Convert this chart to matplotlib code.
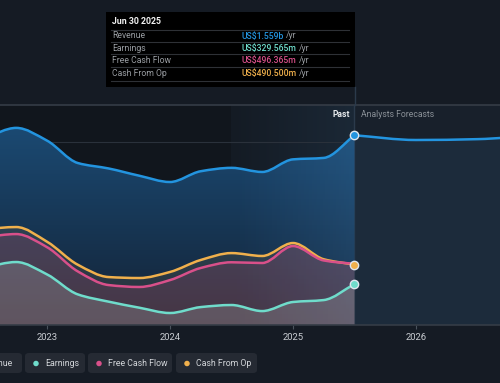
import numpy as np
import matplotlib
matplotlib.use("Agg")
import matplotlib.pyplot as plt
from matplotlib.path import Path
from matplotlib.patches import PathPatch, FancyBboxPatch, Rectangle

plt.rcParams['font.family'] = ['Roboto', 'DejaVu Sans']

# ---------------- data ----------------
past_t = [2022.5, 2022.75, 2023.0, 2023.25, 2023.5, 2023.75, 2024.0,
          2024.25, 2024.5, 2024.75, 2025.0, 2025.25, 2025.5]
revenue = [1540, 1620, 1515, 1330, 1285, 1225, 1173, 1262, 1290, 1256, 1360, 1372, 1559]
earnings = [470, 512, 410, 245, 185, 135, 91, 140, 157, 107, 182, 198, 329.565]
fcf = [720, 743, 635, 435, 322, 306, 363, 463, 510, 504, 644, 525, 496.365]
cfo = [785, 801, 680, 490, 388, 380, 430, 529, 586, 562, 669, 535, 490.5]
fc_t = [2025.5, 2026.0, 2026.5, 2027.0]
revenue_fc = [1559, 1520, 1527, 1562]
year_ticks = [2023, 2024, 2025, 2026]
year_labels = ["2023", "2024", "2025", "2026"]

BLUE = "#2394df"
TEAL = "#6fdccb"
PINK = "#d9508a"
ORANGE = "#f0b04c"
BG = "#151b24"

W, H = 500, 383
fig = plt.figure(figsize=(W / 100, H / 100), dpi=100)
fig.patch.set_facecolor(BG)

def fx(x):
    return x / W

def fy(y):
    return 1 - y / H

ax = fig.add_axes([0, fy(325), 1, fy(105) - fy(325)])
ax.set_facecolor("#11161d")
ax.set_xlim(2022.618, 2026.683)
ax.set_ylim(-8, 1809)
for s in ax.spines.values():
    s.set_visible(False)


def smooth_path(xs, ys, base=None):
    xs = np.asarray(xs, float)
    ys = np.asarray(ys, float)
    n = len(xs)
    d = np.diff(ys) / np.diff(xs)
    m = np.zeros(n)
    m[0], m[-1] = d[0], d[-1]
    for i in range(1, n - 1):
        if d[i - 1] * d[i] <= 0:
            m[i] = 0
        else:
            m[i] = 2 / (1 / d[i - 1] + 1 / d[i])
    verts = [(xs[0], ys[0])]
    codes = [Path.MOVETO]
    for i in range(n - 1):
        h = xs[i + 1] - xs[i]
        verts += [(xs[i] + h / 3, ys[i] + m[i] * h / 3),
                  (xs[i + 1] - h / 3, ys[i + 1] - m[i + 1] * h / 3),
                  (xs[i + 1], ys[i + 1])]
        codes += [Path.CURVE4] * 3
    if base is not None:
        verts += [(xs[-1], base), (xs[0], base), (xs[0], ys[0])]
        codes += [Path.LINETO, Path.LINETO, Path.CLOSEPOLY]
    return Path(verts, codes)

# forecast region background
ax.axvspan(2025.5, 2026.683, color="#18202b", zorder=0, lw=0)
# highlight band with gradient
grad = np.linspace(0, 1, 100).reshape(1, -1)
ax.imshow(grad, extent=[2024.5, 2025.5, -8, 1809], aspect="auto",
          cmap=matplotlib.colors.LinearSegmentedColormap.from_list(
              "b", ["#141b24", "#1b2836"]), zorder=0.5)

# grid
for v in [500, 1000, 1500]:
    ax.axhline(v, color="#2a313b", lw=0.8, zorder=1)
ax.axhline(1809, color="#353c46", lw=1.2, zorder=1, clip_on=False)
ax.axhline(-8, color="#353c46", lw=1.2, zorder=6, clip_on=False)

# revenue area gradient (past)
rev_area = smooth_path(past_t, revenue, base=-8)
vgrad = np.linspace(0, 1, 200).reshape(-1, 1)
cmap_rev = matplotlib.colors.LinearSegmentedColormap.from_list(
    "r", ["#132235", "#1b4a73"])
im = ax.imshow(vgrad, extent=[2022.5, 2025.5, -8, 1650], origin="lower",
               aspect="auto", cmap=cmap_rev, zorder=2)
clip = PathPatch(rev_area, transform=ax.transData, facecolor="none", edgecolor="none")
ax.add_patch(clip)
im.set_clip_path(clip)
band = ax.imshow(grad, extent=[2024.5, 2025.5, -8, 1809], aspect="auto",
                 cmap=matplotlib.colors.LinearSegmentedColormap.from_list(
                     "hb", [(0.3, 0.55, 0.8, 0.0), (0.3, 0.6, 0.85, 0.18)]), zorder=2.1)
band.set_clip_path(clip)

# forecast revenue area
ax.add_patch(PathPatch(smooth_path(fc_t, revenue_fc, base=-8), facecolor="#1c2b3b",
                       edgecolor="none", zorder=1.5))

# lower series fills
ax.add_patch(PathPatch(smooth_path(past_t, cfo, base=-8), facecolor=(0.94, 0.69, 0.3, 0.10),
                       edgecolor="none", zorder=3))
ax.add_patch(PathPatch(smooth_path(past_t, fcf, base=-8), facecolor=(0.85, 0.31, 0.54, 0.16),
                       edgecolor="none", zorder=3.1))
ax.add_patch(PathPatch(smooth_path(past_t, earnings, base=-8), facecolor=(0.75, 0.78, 0.76, 0.22),
                       edgecolor="none", zorder=3.2))

# lines
for t, vals, col, z in [(past_t, cfo, ORANGE, 4), (past_t, fcf, PINK, 4.1),
                        (past_t, earnings, TEAL, 4.2), (past_t, revenue, BLUE, 4.3),
                        (fc_t, revenue_fc, BLUE, 4.3)]:
    ax.add_patch(PathPatch(smooth_path(t, vals), facecolor="none", edgecolor=col,
                           lw=1.8, zorder=z, capstyle="round", joinstyle="round"))

# divider
ax.axvline(2025.5, color="#2b3a4b", lw=1, zorder=1.8)

# end markers
for v, col in [(revenue[-1], BLUE), (cfo[-1], ORANGE), (earnings[-1], TEAL)]:
    ax.plot([2025.5], [v], "o", ms=6, mfc=col, mec="#dfe6ee", mew=1.0, zorder=7)

# ticks
ax.set_yticks([])
ax.set_xticks(year_ticks)
ax.set_xticklabels(year_labels, color="#c9cdd2", fontsize=6.8)
ax.tick_params(axis="x", length=3, color="#4a525c", pad=3)

ax.text(2025.46, 1730, "Past", color="#e6e9ec", fontsize=6.2, fontweight="bold",
        ha="right", va="center", zorder=8)
ax.text(2025.55, 1730, "Analysts Forecasts", color="#8a9097", fontsize=6.2,
        ha="left", va="center", zorder=8)

# vertical line from tooltip to chart
fig.add_artist(plt.Line2D([fx(354.5), fx(354.5)], [fy(87), fy(105)], color="#2b3a4b", lw=1))

# tooltip
fig.add_artist(Rectangle((fx(106), fy(87)), fx(355) - fx(106), fy(12) - fy(87),
                         facecolor="#000000", edgecolor="none"))
fig.text(fx(112), fy(22), "Jun 30 2025", color="#f2f2f2", fontsize=6.3,
         fontweight="bold", va="center")
rows = ["Revenue", "Earnings", "Free Cash Flow", "Cash From Op"]
vals = ["US$1.559b", "US$329.565m", "US$496.365m", "US$490.500m"]
cols = [BLUE, TEAL, PINK, ORANGE]
for i, (r, v, c) in enumerate(zip(rows, vals, cols)):
    yy = 36 + i * 12.4
    fig.add_artist(plt.Line2D([fx(111), fx(349)], [fy(yy - 6.5), fy(yy - 6.5)],
                              color="#2e3136", lw=0.8))
    fig.text(fx(112), fy(yy), r, color="#9a9ea3", fontsize=6.2, va="center")
    t = fig.text(fx(242), fy(yy), v, color=c, fontsize=6.2, va="center", fontweight="medium")
    fig.canvas.draw()
    bb = t.get_window_extent()
    fig.text(bb.x1 / W + fx(2), fy(yy), "/yr", color="#9a9ea3", fontsize=6.2, va="center")
fig.add_artist(plt.Line2D([fx(111), fx(349)], [fy(80.5), fy(80.5)], color="#2e3136", lw=0.8))

# legend buttons
legend_names = ["Revenue", "Earnings", "Free Cash Flow", "Cash From Op"]
boxes = [(-40, 22), (25, 85), (88, 172), (176, 257)]
for name, (x0, x1), c in zip(legend_names, boxes, cols):
    fig.add_artist(FancyBboxPatch((fx(x0), fy(373)), fx(x1) - fx(x0), fy(353) - fy(373),
                                  boxstyle="round,pad=0,rounding_size=0.008",
                                  facecolor="#252a33", edgecolor="none"))
    if name == "Revenue":
        fig.text(fx(x1 - 9), fy(363.5), "Revenue", color="#d3d6da", fontsize=6.3,
                 va="center", ha="right")
    else:
        fig.add_artist(matplotlib.patches.Ellipse((fx(x0 + 11), fy(363.5)), 5.5 / W, 5.5 / H,
                                                  facecolor=c, edgecolor="none"))
        fig.text(fx(x0 + 20), fy(363.5), name, color="#d3d6da", fontsize=6.3, va="center")

fig.savefig("out.png", dpi=100, facecolor=BG)
